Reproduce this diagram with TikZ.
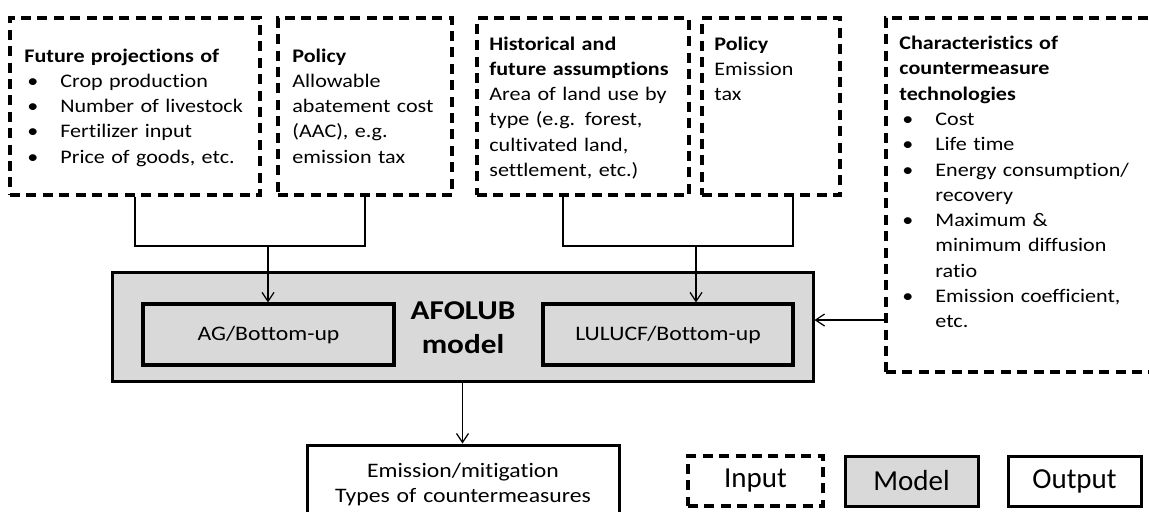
\documentclass[tikz,border=0pt]{standalone}
\usepackage{fontspec}
\setmainfont{Carlito}[FakeStretch=1.15, Ligatures=NoCommon]
\newfontfamily\legfont{Carlito}[Ligatures=NoCommon]
\usetikzlibrary{arrows.meta,fit}
\definecolor{modelgray}{HTML}{D9D9D9}
\newcommand{\bu}{\makebox[18pt][l]{\hspace{1.5pt}•}}
\newcommand{\ind}{\hspace*{18pt}}
\begin{document}
\begin{tikzpicture}[x=0.5pt,y=-0.5pt,
  inbox/.style={draw, line width=1.7pt, dash pattern=on 5pt off 3.2pt, inner sep=0pt},
  modelbox/.style={draw, line width=1.5pt, fill=modelgray, inner sep=0pt},
  subbox/.style={draw, line width=1.6pt, inner sep=0pt},
  outbox/.style={draw, line width=1.5pt, fill=white, inner sep=0pt},
  body/.style={anchor=base west, inner sep=0pt, align=left, text width=160pt, font=\fontsize{9.6}{12.65}\selectfont},
  subtext/.style={font=\fontsize{10.3}{12.5}\selectfont},
  conn/.style={line width=0.6pt},
  arr/.style={-{Straight Barb[length=4.5pt,width=6pt]}},
  leg/.style={font=\legfont\fontsize{14.5}{16}\selectfont}
]
\useasboundingbox (0,0) rectangle (1149,511);
\clip (0,0) rectangle (1149,511);

% input boxes
\node[inbox, fit={(10,18)(260,195)}] (b1) {};
\node[inbox, fit={(278,18)(452,195)}] (b2) {};
\node[inbox, fit={(477,18)(689,195)}] (b3) {};
\node[inbox, fit={(702,18)(840,195)}] (b4) {};
\node[inbox, fit={(886,18)(1160,372)}] (b5) {};

\node[body] (t1) at (24,62) {{\bfseries Future projections of}\\
\bu Crop production\\
\bu Number of livestock\\
\bu Fertilizer input\\
\bu Price of goods, etc.};
\node[body] (t2) at (292,62) {{\bfseries Policy}\\
Allowable\\
abatement cost\\
(AAC), e.g.\\
emission tax};
\node[body] (t3) at (489,50) {{\bfseries Historical and}\\
{\bfseries future assumptions}\\
Area of land use by\\
type (e.g. forest,\\
cultivated land,\\
settlement, etc.)};
\node[body] (t4) at (714,50) {{\bfseries Policy}\\
Emission\\
tax};
\node[body] (t5) at (899,49.5) {{\bfseries Characteristics of}\\
{\bfseries countermeasure}\\
{\bfseries technologies}\\
\bu Cost\\
\bu Life time\\
\bu Energy consumption/\\
\ind recovery\\
\bu Maximum \&\\
\ind minimum diffusion\\
\ind ratio\\
\bu Emission coefficient,\\
\ind etc.};

% model
\node[modelbox, fit={(112,272)(813,381)}] (m) {};
\node[subbox, fit={(143,304)(394,365)}] (ag) {};
\node[subtext] (agt) at (ag.center) {AG/Bottom-up};
\node[subbox, fit={(543,304)(793,365)}] (lu) {};
\node[subtext] (lut) at (lu.center) {LULUCF/Bottom-up};
\node[anchor=base, align=center, text width=80pt, inner sep=0pt, font=\bfseries\fontsize{13.6}{17}\selectfont] (mt) at (463,319) {AFOLUB\\model};

% output
\node[outbox, fit={(307,445)(619,540)}] (o) {};
\node[anchor=base, align=center, text width=160pt, inner sep=0pt, font=\fontsize{10.3}{12.7}\selectfont] (ot) at (463,477) {Emission/mitigation\\Types of countermeasures};

% legend
\node[inbox, fit={(688,456)(823,506)}] (li) {};
\node[leg] at (li.center) {Input};
\node[modelbox, fit={(845,456)(978,506)}] (lm) {};
\node[leg] at (lm.center) {Model};
\node[outbox, fit={(1008,456)(1141,506)}] (lo) {};
\node[leg] at (lo.center) {Output};

% connectors
\coordinate (j1) at (268,246);
\coordinate (s3) at (563,195);
\coordinate (s4) at (793,195);
\coordinate (j2) at (696,246);
\coordinate (k) at (886,320);
\draw[conn] (b1.south) |- (j1) -| (b2.south);
\draw[conn,arr] (j1) -- (j1 |- ag.north);
\draw[conn] (s3) |- (j2) -| (s4);
\draw[conn,arr] (j2) -- (j2 |- lu.north);
\draw[conn,arr] (k) -- (k -| m.east);
\draw[conn,arr] (m.south) -- (m.south |- o.north);
\end{tikzpicture}
\end{document}
